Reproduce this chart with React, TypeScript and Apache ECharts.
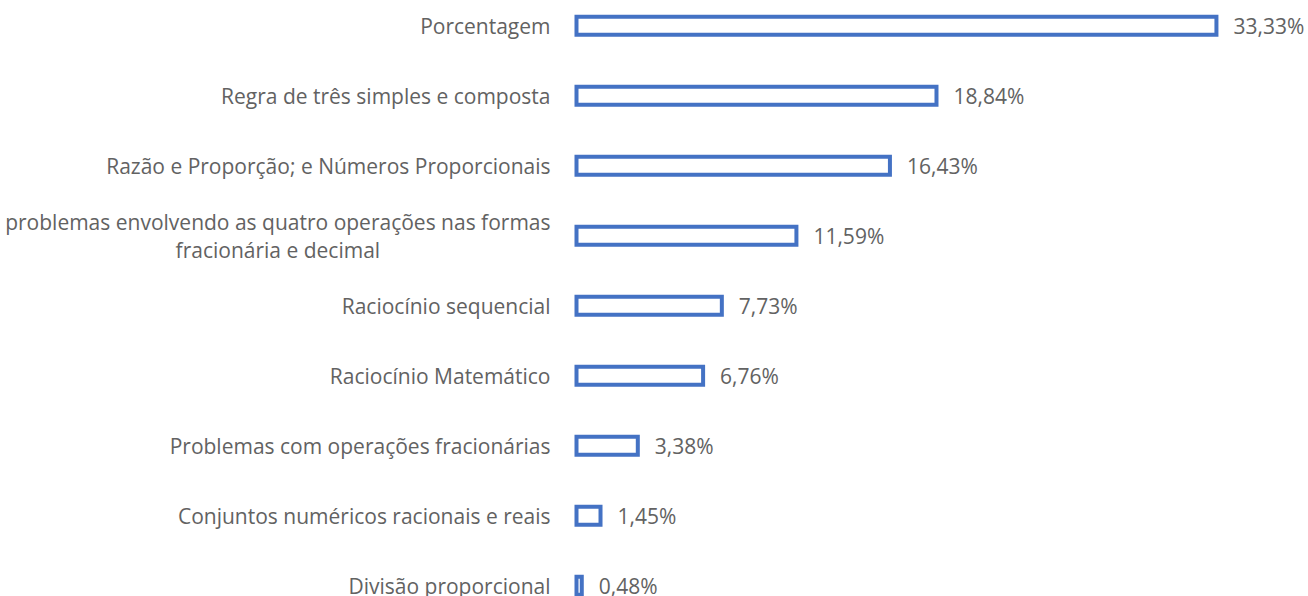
import React, { useEffect, useRef } from "react";
import * as echarts from "echarts";

const categories = [
  "Porcentagem",
  "Regra de três simples e composta",
  "Razão e Proporção; e Números Proporcionais",
  "problemas envolvendo as quatro operações nas formas\nfracionária e decimal",
  "Raciocínio sequencial",
  "Raciocínio Matemático",
  "Problemas com operações fracionárias",
  "Conjuntos numéricos racionais e reais",
  "Divisão proporcional",
];

const values = [33.33, 18.84, 16.43, 11.59, 7.73, 6.76, 3.38, 1.45, 0.48];

const FONT = "'Open Sans', sans-serif";
const TEXT_COLOR = "#626262";
const BAR_COLOR = "#4472C4";

export default function App() {
  const ref = useRef<HTMLDivElement>(null);

  useEffect(() => {
    if (!ref.current) return;
    const chart = echarts.init(ref.current, undefined, { renderer: "svg" });
    chart.setOption({
      animation: false,
      backgroundColor: "#ffffff",
      grid: { left: 574.5, top: 0.8, height: 630, width: 676.2 },
      xAxis: {
        type: "value",
        min: 0,
        max: 35,
        show: false,
        splitLine: { show: false },
      },
      yAxis: {
        type: "category",
        data: categories,
        inverse: true,
        axisLine: { show: false },
        axisTick: { show: false },
        axisLabel: {
          margin: 24,
          color: TEXT_COLOR,
          fontFamily: FONT,
          fontSize: 21,
          formatter: (v: string) => `{c|${v}}`,
          rich: {
            c: {
              align: "center",
              color: TEXT_COLOR,
              fontFamily: FONT,
              fontSize: 21,
              lineHeight: 28,
            },
          },
        },
      },
      series: [
        {
          type: "bar",
          data: values,
          barWidth: 22,
          itemStyle: {
            color: "#ffffff",
            borderColor: BAR_COLOR,
            borderWidth: 4,
          },
          label: {
            show: true,
            position: "right",
            distance: 15,
            color: TEXT_COLOR,
            fontFamily: FONT,
            fontSize: 21,
            formatter: (p: any) => p.value.toFixed(2).replace(".", ",") + "%",
          },
        },
      ],
    });
    return () => chart.dispose();
  }, []);

  return (
    <div
      ref={ref}
      style={{ position: "fixed", left: 0, top: -10, width: 1308, height: 640 }}
    />
  );
}
